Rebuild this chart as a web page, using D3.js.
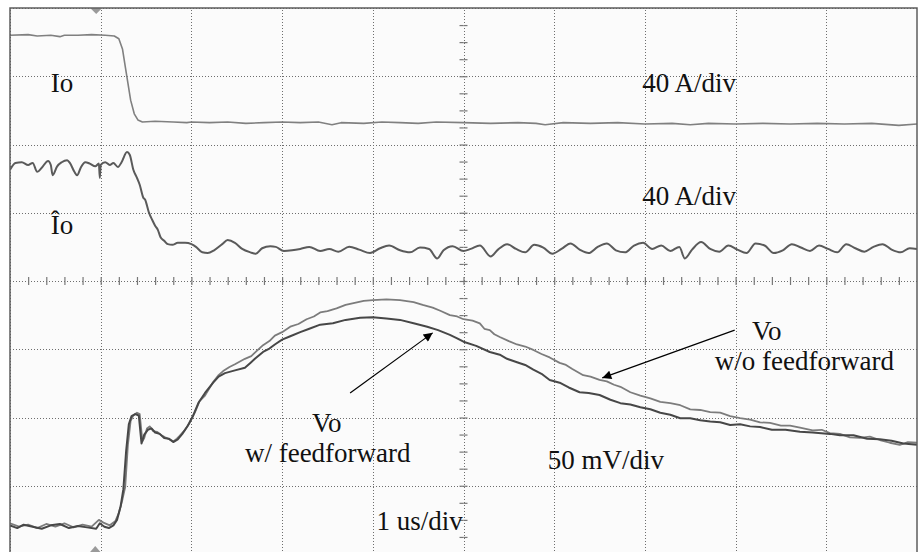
<!DOCTYPE html>
<html>
<head>
<meta charset="utf-8">
<script src="https://cdn.jsdelivr.net/npm/d3@7"></script>
<style>
  body { margin: 0; background: #ffffff; }
  svg { display: block; }
  .lbl { font-family: "Liberation Serif", "Times New Roman", serif; font-size: 27px; fill: #111; }
</style>
</head>
<body>
<svg width="920" height="552"></svg>
<script>
// time in us (1 us/div), amplitude in screen divisions (+4 top, -4 bottom)
var ioTrace = [[0,3.60],[0.2,3.61],[0.3,3.59],[0.45,3.60],[0.55,3.58],[0.6,3.60],[0.75,3.60],[0.9,3.61],[1.05,3.60],[1.15,3.59],
  [1.20,3.55],[1.24,3.40],[1.27,3.15],[1.30,2.90],[1.33,2.65],[1.37,2.45],[1.41,2.36],[1.46,2.33],[1.6,2.34],[1.8,2.33],
  [1.95,2.32],[2.0,2.33],[2.2,2.32],[2.4,2.33],[2.6,2.31],[2.8,2.32],[3.0,2.33],[3.2,2.32],[3.4,2.33],[3.55,2.29],[3.65,2.32],
  [3.9,2.31],[4.1,2.33],[4.3,2.32],[4.5,2.31],[4.7,2.33],[5.0,2.32],[5.3,2.31],[5.6,2.32],[5.8,2.31],[5.9,2.29],[6.1,2.32],
  [6.4,2.31],[6.7,2.32],[7.0,2.30],[7.3,2.31],[7.5,2.29],[7.7,2.31],[8.0,2.30],[8.3,2.31],[8.6,2.30],[8.9,2.31],[9.2,2.30],
  [9.5,2.31],[9.8,2.28],[10.0,2.30]];

var ioHatTrace = [[0,1.63],[0.06,1.73],[0.13,1.74],[0.20,1.70],[0.25,1.73],[0.30,1.60],[0.35,1.66],[0.42,1.76],[0.45,1.70],
  [0.47,1.55],[0.52,1.68],[0.57,1.74],[0.63,1.77],[0.66,1.73],[0.71,1.60],[0.74,1.55],[0.78,1.66],[0.83,1.74],[0.88,1.72],
  [0.94,1.68],[0.98,1.72],[0.99,1.51],[1.0,1.70],[1.05,1.74],[1.10,1.70],[1.14,1.73],[1.19,1.67],[1.23,1.74],[1.29,1.89],
  [1.32,1.85],[1.36,1.63],[1.40,1.51],[1.43,1.41],[1.47,1.22],[1.49,1.19],[1.53,1.01],[1.57,0.89],[1.60,0.81],[1.63,0.75],
  [1.66,0.64],[1.70,0.59],[1.74,0.54],[1.79,0.53],[1.85,0.56],[1.93,0.56],[2.0,0.54],[2.05,0.50],[2.12,0.42],[2.18,0.41],
  [2.25,0.45],[2.34,0.54],[2.40,0.60],[2.48,0.56],[2.56,0.47],[2.65,0.42],[2.71,0.40],[2.78,0.48],[2.87,0.51],[2.93,0.50],
  [3.02,0.44],[3.11,0.45],[3.20,0.47],[3.30,0.50],[3.42,0.44],[3.52,0.47],[3.62,0.43],[3.74,0.50],[3.85,0.46],[3.97,0.41],
  [4.08,0.48],[4.18,0.52],[4.30,0.45],[4.41,0.42],[4.52,0.49],[4.62,0.47],[4.71,0.33],[4.78,0.45],[4.88,0.51],[5.0,0.44],
  [5.08,0.47],[5.18,0.52],[5.30,0.36],[5.38,0.46],[5.48,0.54],[5.58,0.47],[5.68,0.42],[5.78,0.53],[5.88,0.49],[5.98,0.40],
  [6.08,0.47],[6.18,0.55],[6.28,0.46],[6.38,0.41],[6.48,0.50],[6.58,0.55],[6.68,0.45],[6.78,0.42],[6.88,0.52],[6.98,0.56],
  [7.08,0.47],[7.18,0.52],[7.28,0.44],[7.38,0.50],[7.44,0.33],[7.52,0.46],[7.62,0.57],[7.72,0.47],[7.82,0.43],[7.92,0.52],
  [8.02,0.46],[8.12,0.41],[8.22,0.55],[8.32,0.52],[8.42,0.41],[8.52,0.45],[8.62,0.54],[8.72,0.49],[8.82,0.44],[8.92,0.52],
  [9.02,0.47],[9.12,0.42],[9.22,0.54],[9.32,0.48],[9.42,0.43],[9.52,0.50],[9.62,0.54],[9.72,0.46],[9.82,0.42],[9.92,0.48],
  [10.0,0.47]];

var voNoFfTrace = [[0,-3.55],[0.1,-3.60],[0.2,-3.57],[0.3,-3.62],[0.4,-3.56],[0.5,-3.60],[0.6,-3.55],[0.7,-3.61],[0.8,-3.57],
  [0.9,-3.60],[0.98,-3.50],[1.03,-3.54],[1.1,-3.58],[1.16,-3.52],[1.20,-3.40],[1.24,-3.20],[1.27,-3.02],[1.30,-2.40],[1.33,-2.05],
  [1.36,-1.97],[1.40,-1.93],[1.43,-1.95],[1.46,-2.35],[1.48,-2.30],[1.51,-2.16],[1.54,-2.13],[1.58,-2.20],[1.62,-2.21],
  [1.67,-2.26],[1.71,-2.29],[1.76,-2.32],[1.80,-2.35],[1.84,-2.31],[1.87,-2.27],[1.93,-2.18],[1.98,-2.08],[2.04,-1.92],
  [2.09,-1.76],[2.15,-1.68],[2.24,-1.48],[2.30,-1.38],[2.35,-1.32],[2.42,-1.26],[2.48,-1.22],[2.59,-1.14],[2.66,-1.10],
  [2.70,-1.05],[2.79,-0.94],[2.86,-0.88],[2.92,-0.80],[3.0,-0.75],[3.09,-0.67],[3.18,-0.63],[3.27,-0.56],[3.35,-0.52],
  [3.42,-0.46],[3.5,-0.44],[3.6,-0.40],[3.7,-0.35],[3.8,-0.32],[3.9,-0.29],[4.0,-0.28],[4.15,-0.27],[4.30,-0.28],[4.45,-0.31],
  [4.55,-0.35],[4.66,-0.39],[4.75,-0.44],[4.85,-0.50],[4.93,-0.52],[5.0,-0.56],[5.10,-0.58],[5.18,-0.62],[5.23,-0.70],
  [5.29,-0.72],[5.34,-0.78],[5.40,-0.82],[5.50,-0.88],[5.59,-0.93],[5.68,-0.96],[5.77,-1.01],[5.86,-1.07],[5.95,-1.12],
  [6.06,-1.20],[6.13,-1.23],[6.20,-1.29],[6.32,-1.38],[6.40,-1.40],[6.50,-1.45],[6.58,-1.47],[6.66,-1.52],[6.73,-1.55],
  [6.84,-1.63],[6.95,-1.68],[7.06,-1.72],[7.17,-1.77],[7.28,-1.79],[7.39,-1.82],[7.50,-1.88],[7.61,-1.89],[7.72,-1.92],
  [7.83,-1.93],[7.94,-1.98],[8.05,-2.01],[8.16,-2.03],[8.27,-2.07],[8.38,-2.08],[8.5,-2.12],[8.60,-2.12],[8.71,-2.15],
  [8.85,-2.19],[8.95,-2.18],[9.04,-2.23],[9.15,-2.24],[9.26,-2.29],[9.37,-2.30],[9.48,-2.28],[9.59,-2.33],[9.70,-2.37],
  [9.81,-2.40],[9.90,-2.36],[10.0,-2.37]];

var voFfTrace = [[0,-3.58],[0.08,-3.62],[0.15,-3.57],[0.25,-3.60],[0.35,-3.63],[0.45,-3.58],[0.55,-3.56],[0.65,-3.62],
  [0.75,-3.59],[0.85,-3.61],[0.95,-3.63],[0.99,-3.55],[1.04,-3.60],[1.09,-3.62],[1.14,-3.58],[1.18,-3.50],[1.22,-3.30],
  [1.25,-3.05],[1.28,-2.50],[1.31,-2.10],[1.34,-1.98],[1.38,-1.95],[1.42,-1.97],[1.45,-2.38],[1.48,-2.25],[1.52,-2.18],
  [1.56,-2.16],[1.60,-2.22],[1.65,-2.24],[1.70,-2.30],[1.75,-2.31],[1.80,-2.36],[1.85,-2.32],[1.90,-2.24],[1.96,-2.12],
  [2.02,-1.97],[2.08,-1.78],[2.15,-1.64],[2.24,-1.49],[2.30,-1.40],[2.37,-1.35],[2.48,-1.31],[2.59,-1.27],[2.65,-1.20],
  [2.70,-1.14],[2.79,-1.04],[2.86,-0.99],[2.92,-0.93],[3.0,-0.86],[3.09,-0.81],[3.20,-0.75],[3.30,-0.70],[3.42,-0.64],
  [3.56,-0.62],[3.70,-0.57],[3.86,-0.54],[4.0,-0.53],[4.15,-0.55],[4.30,-0.57],[4.45,-0.62],[4.60,-0.67],[4.72,-0.72],
  [4.85,-0.79],[4.93,-0.84],[5.0,-0.89],[5.14,-0.95],[5.29,-1.04],[5.40,-1.08],[5.48,-1.14],[5.59,-1.19],[5.68,-1.23],
  [5.77,-1.30],[5.86,-1.36],[5.95,-1.45],[6.06,-1.49],[6.16,-1.56],[6.28,-1.63],[6.38,-1.64],[6.50,-1.67],[6.62,-1.74],
  [6.73,-1.79],[6.84,-1.81],[6.95,-1.85],[7.06,-1.88],[7.17,-1.93],[7.28,-1.96],[7.39,-2.01],[7.50,-2.01],[7.61,-2.04],
  [7.72,-2.06],[7.83,-2.07],[7.94,-2.11],[8.05,-2.10],[8.16,-2.13],[8.27,-2.14],[8.40,-2.18],[8.55,-2.18],[8.71,-2.21],
  [8.85,-2.22],[9.04,-2.24],[9.15,-2.26],[9.30,-2.26],[9.45,-2.31],[9.59,-2.32],[9.72,-2.34],[9.85,-2.38],[10.0,-2.40]];

// labels: [text, time, level]
var labels = [["Io",0.45,2.77],["40 A/div",6.97,2.77],["\u00CEo",0.45,0.69],["40 A/div",6.97,1.11],
  ["Vo",8.18,-0.86],["w/o feedforward",7.77,-1.30],["Vo",3.33,-2.21],["w/ feedforward",2.59,-2.65],
  ["50 mV/div",5.93,-2.75],["1 us/div",4.04,-3.65]];
// arrows: [tail t, tail v, tip t, tip v]
var arrows = [[3.75,-1.64,4.66,-0.76],[7.99,-0.72,6.53,-1.42]];

function dotted(g) {
  g.select(".domain").remove();
  g.selectAll(".tick line")
    .attr("stroke", "#6e6e6e")
    .attr("stroke-width", 1)
    .attr("shape-rendering", "crispEdges")
    .attr("stroke-dasharray", "1,2");
}

function minor(g) {
  g.select(".domain").remove();
  g.selectAll(".tick line")
    .attr("stroke", "#777")
    .attr("stroke-width", 1.2);
}

function main() {
  var svg = d3.select("svg");
  var x = d3.scaleLinear().domain([0, 10]).range([10, 917]),
      y = d3.scaleLinear().domain([-4, 4]).range([554, 8]);

  var defs = svg.append("defs");
  defs.append("clipPath").attr("id", "scr")
    .append("rect").attr("x", x(0)).attr("y", y(4)).attr("width", x(10) - x(0)).attr("height", y(-4) - y(4));
  defs.append("marker")
    .attr("id", "head").attr("viewBox", "0 0 10 10")
    .attr("refX", 10).attr("refY", 5)
    .attr("markerWidth", 13).attr("markerHeight", 9)
    .attr("markerUnits", "userSpaceOnUse")
    .attr("orient", "auto")
    .append("path").attr("d", "M0,0L10,5L0,10z").attr("fill", "#000");

  svg.append("rect")
    .attr("x", x(0)).attr("y", y(4))
    .attr("width", x(10) - x(0)).attr("height", y(-4) - y(4))
    .attr("fill", "#fbfbfb");

  // graticule
  var grid = svg.append("g").attr("clip-path", "url(#scr)");
  grid.append("g")
    .attr("transform", "translate(0," + y(-4) + ")")
    .call(d3.axisBottom(x).ticks(10).tickSize(-(y(-4) - y(4))).tickFormat(""))
    .call(dotted);
  grid.append("g")
    .attr("transform", "translate(" + x(0) + ",0)")
    .call(d3.axisLeft(y).ticks(8).tickSize(-(x(10) - x(0))).tickFormat(""))
    .call(dotted);

  // centre minor ticks
  var hMinor = d3.range(0.2, 10, 0.2), vMinor = d3.range(-3.75, 4, 0.25);
  grid.append("g")
    .attr("transform", "translate(0," + y(0) + ")")
    .call(d3.axisBottom(x).tickValues(hMinor).tickSize(4).tickFormat(""))
    .call(minor);
  grid.append("g")
    .attr("transform", "translate(0," + y(0) + ")")
    .call(d3.axisTop(x).tickValues(hMinor).tickSize(4).tickFormat(""))
    .call(minor);
  grid.append("g")
    .attr("transform", "translate(" + x(5) + ",0)")
    .call(d3.axisLeft(y).tickValues(vMinor).tickSize(4).tickFormat(""))
    .call(minor);
  grid.append("g")
    .attr("transform", "translate(" + x(5) + ",0)")
    .call(d3.axisRight(y).tickValues(vMinor).tickSize(4).tickFormat(""))
    .call(minor);

  // traces
  var line = d3.line()
    .x(function(d) { return x(d[0]); })
    .y(function(d) { return y(d[1]); });
  var smooth = d3.line()
    .curve(d3.curveMonotoneX)
    .x(function(d) { return x(d[0]); })
    .y(function(d) { return y(d[1]); });
  var traces = svg.append("g").attr("clip-path", "url(#scr)").attr("fill", "none").attr("stroke-linejoin", "round");
  traces.append("path").datum(ioTrace).attr("d", line).attr("stroke", "#808080").attr("stroke-width", 1.6);
  traces.append("path").datum(ioHatTrace).attr("d", smooth).attr("stroke", "#5a5a5a").attr("stroke-width", 2);
  traces.append("path").datum(voNoFfTrace).attr("d", line).attr("stroke", "#7c7c7c").attr("stroke-width", 1.8);
  traces.append("path").datum(voFfTrace).attr("d", line).attr("stroke", "#474747").attr("stroke-width", 2);

  // trigger markers
  svg.append("path")
    .attr("d", "M" + (x(0.95) - 6) + "," + y(4) + "L" + (x(0.95) + 6) + "," + y(4) + "L" + x(0.95) + "," + (y(4) + 6) + "z")
    .attr("fill", "#9a9a9a");
  svg.append("path")
    .attr("d", "M" + (x(0.94) - 6) + "," + (y(-4) - 1) + "L" + (x(0.94) + 6) + "," + (y(-4) - 1) + "L" + x(0.94) + "," + (y(-4) - 8) + "z")
    .attr("fill", "#9a9a9a");

  // frame
  svg.append("rect")
    .attr("x", x(0)).attr("y", y(4))
    .attr("width", x(10) - x(0)).attr("height", y(-4) - y(4))
    .attr("fill", "none").attr("stroke", "#5e5e5e").attr("stroke-width", 1.5);

  // annotations
  svg.selectAll(".arr")
    .data(arrows)
    .enter().append("line")
    .attr("class", "arr")
    .attr("x1", function(d) { return x(d[0]); })
    .attr("y1", function(d) { return y(d[1]); })
    .attr("x2", function(d) { return x(d[2]); })
    .attr("y2", function(d) { return y(d[3]); })
    .attr("stroke", "#000").attr("stroke-width", 1.2)
    .attr("marker-end", "url(#head)");

  svg.selectAll(".lbl")
    .data(labels)
    .enter().append("text")
    .attr("class", "lbl")
    .attr("x", function(d) { return x(d[1]); })
    .attr("y", function(d) { return y(d[2]); })
    .text(function(d) { return d[0]; });
}
main();
</script>
</body>
</html>
